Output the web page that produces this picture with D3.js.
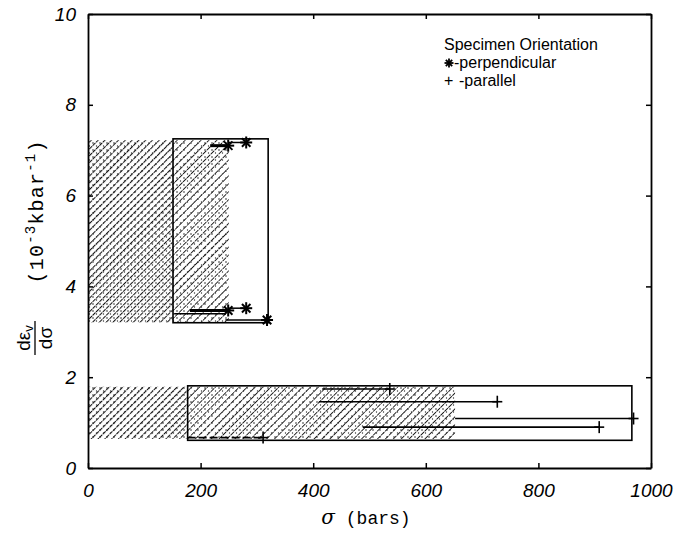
<!DOCTYPE html>
<html><head><meta charset="utf-8">
<script src="https://cdn.jsdelivr.net/npm/d3@7"></script>
<style>
html,body{margin:0;padding:0;background:#fff;}
svg{display:block;}
</style></head>
<body>
<svg id="chart" width="674" height="539"></svg>
<script>
// ---- data ----
const xTicks = [0, 200, 400, 600, 800, 1000];
const yTicks = [0, 2, 4, 6, 8, 10];

// hatched stress ranges (sigma from, sigma to, dε/dσ from, to)
const hatchX0 = [0, 150, 0, 175];
const hatchX1 = [150, 250, 175, 652];
const hatchY0 = [3.2, 3.2, 0.64, 0.64];
const hatchY1 = [7.22, 7.22, 1.79, 1.79];
const hatchDense = [true, false, true, false];

// enclosing boxes
const boxX0 = [151, 177];
const boxX1 = [320, 966];
const boxY0 = [3.2, 0.61];
const boxY1 = [7.25, 1.81];

// perpendicular specimens (asterisk)
const perpStart = [217, 249, 181, 249, 153, 244];
const perpEnd   = [249, 281, 249, 281, 245, 318];
const perpValue = [7.10, 7.17, 3.47, 3.52, 3.40, 3.26];
const perpMark  = [true, true, true, true, false, true];
const perpThick = [true, false, true, false, false, false];

// parallel specimens (plus)
const parStart = [416, 410, 652, 488, 177];
const parEnd   = [536, 727, 969, 908, 311];
const parValue = [1.74, 1.46, 1.09, 0.90, 0.67];
const parDash  = [false, false, false, false, true];

const legendLines = ["Specimen Orientation", "-perpendicular", "-parallel"];

// ---- layout ----
const svg = d3.select("#chart");
const L = 88, R = 651, T = 14, B = 468;
const x = d3.scaleLinear().domain([0, 1000]).range([L, R]);
const y = d3.scaleLinear().domain([0, 10]).range([B, T]);

// hatch patterns
const defs = svg.append("defs");
function makePattern(id, spacing, sw, dash) {
  const p = defs.append("pattern").attr("id", id)
    .attr("patternUnits", "userSpaceOnUse")
    .attr("width", spacing).attr("height", spacing)
    .attr("patternTransform", "rotate(45)");
  p.append("line").attr("x1", 0).attr("y1", 0).attr("x2", 0).attr("y2", spacing)
    .attr("stroke", "#111").attr("stroke-width", sw)
    .attr("stroke-dasharray", dash);
  return p;
}
makePattern("hDense", 4.8, 2.1, "4 1");
makePattern("hLight", 5.6, 1.8, "5 1.5");
// stipple overlay
const st = defs.append("pattern").attr("id", "stip")
  .attr("patternUnits", "userSpaceOnUse").attr("width", 7).attr("height", 7);
st.append("circle").attr("cx", 2).attr("cy", 3).attr("r", 0.8).attr("fill", "#222");
st.append("circle").attr("cx", 5.5).attr("cy", 6).attr("r", 0.7).attr("fill", "#333");

const hatchIdx = d3.range(hatchX0.length);
svg.append("g").selectAll("rect").data(hatchIdx).join("rect")
  .attr("x", i => x(hatchX0[i]))
  .attr("y", i => y(hatchY1[i]))
  .attr("width", i => x(hatchX1[i]) - x(hatchX0[i]))
  .attr("height", i => y(hatchY0[i]) - y(hatchY1[i]))
  .attr("fill", i => hatchDense[i] ? "url(#hDense)" : "url(#hLight)");
svg.append("g").selectAll("rect").data(hatchIdx).join("rect")
  .attr("x", i => x(hatchX0[i]))
  .attr("y", i => y(hatchY1[i]))
  .attr("width", i => x(hatchX1[i]) - x(hatchX0[i]))
  .attr("height", i => y(hatchY0[i]) - y(hatchY1[i]))
  .attr("fill", "url(#stip)");

// boxes
svg.append("g").selectAll("rect").data(d3.range(boxX0.length)).join("rect")
  .attr("x", i => x(boxX0[i]))
  .attr("y", i => y(boxY1[i]))
  .attr("width", i => x(boxX1[i]) - x(boxX0[i]))
  .attr("height", i => y(boxY0[i]) - y(boxY1[i]))
  .attr("fill", "none").attr("stroke", "#000").attr("stroke-width", 1.6);

function asterisk(g, cx, cy, r, sw) {
  const s = g.append("g").attr("stroke", "#000").attr("stroke-width", sw);
  [0, 45, 90, 135].forEach(a => {
    const rad = a * Math.PI / 180;
    s.append("line")
      .attr("x1", cx - r * Math.cos(rad)).attr("y1", cy - r * Math.sin(rad))
      .attr("x2", cx + r * Math.cos(rad)).attr("y2", cy + r * Math.sin(rad));
  });
}

// perpendicular segments
const gp = svg.append("g");
d3.range(perpStart.length).forEach(i => {
  gp.append("line")
    .attr("x1", x(perpStart[i])).attr("x2", x(perpEnd[i]))
    .attr("y1", y(perpValue[i])).attr("y2", y(perpValue[i]))
    .attr("stroke", "#000").attr("stroke-width", perpThick[i] ? 3 : 1.5);
  if (perpMark[i]) asterisk(gp, x(perpEnd[i]), y(perpValue[i]), 6, 2);
});

// parallel segments
const gq = svg.append("g");
d3.range(parStart.length).forEach(i => {
  const cy = y(parValue[i]);
  gq.append("line")
    .attr("x1", x(parStart[i])).attr("x2", x(parEnd[i]))
    .attr("y1", cy).attr("y2", cy)
    .attr("stroke", "#000").attr("stroke-width", 1.6)
    .attr("stroke-dasharray", parDash[i] ? "8 3" : null);
  const cx = x(parEnd[i]);
  gq.append("line").attr("x1", cx).attr("x2", cx).attr("y1", cy - 6).attr("y2", cy + 6)
    .attr("stroke", "#000").attr("stroke-width", 1.6);
  gq.append("line").attr("x1", cx - 5).attr("x2", cx + 5).attr("y1", cy).attr("y2", cy)
    .attr("stroke", "#000").attr("stroke-width", 1.6);
});

// axes frame
const tickLen = 5;
const fmt = d3.format("d");
const axB = svg.append("g").attr("transform", `translate(0,${B})`)
  .call(d3.axisBottom(x).tickValues(xTicks).tickSizeInner(-tickLen).tickSizeOuter(0).tickPadding(12).tickFormat(fmt));
const axT = svg.append("g").attr("transform", `translate(0,${T})`)
  .call(d3.axisTop(x).tickValues(xTicks).tickSizeInner(-tickLen).tickSizeOuter(0).tickFormat(""));
const axL = svg.append("g").attr("transform", `translate(${L},0)`)
  .call(d3.axisLeft(y).tickValues(yTicks).tickSizeInner(-tickLen).tickSizeOuter(0).tickPadding(12).tickFormat(fmt));
const axR = svg.append("g").attr("transform", `translate(${R},0)`)
  .call(d3.axisRight(y).tickValues(yTicks).tickSizeInner(-tickLen).tickSizeOuter(0).tickFormat(""));
[axB, axT, axL, axR].forEach(a => {
  a.select(".domain").attr("stroke", "#000").attr("stroke-width", 1.8);
  a.selectAll(".tick line").attr("stroke", "#000").attr("stroke-width", 1.5);
  a.selectAll("text").attr("font-family", "'Liberation Sans', Arial, sans-serif")
    .attr("font-style", "italic").attr("font-size", 19).attr("fill", "#000");
});
axB.selectAll(".tick text").attr("dy", "0.9em");

// legend
const lg = svg.append("g").attr("font-family", "'Liberation Sans', Arial, sans-serif")
  .attr("font-size", 16).attr("fill", "#000");
lg.append("text").attr("x", 444).attr("y", 50).text(legendLines[0]);
asterisk(lg, 449, 63, 4.5, 1.8);
lg.append("text").attr("x", 454).attr("y", 68).text(legendLines[1]);
lg.append("text").attr("x", 444).attr("y", 86).text("+");
lg.append("text").attr("x", 459).attr("y", 86).text(legendLines[2]);

// x title
const xt = svg.append("text").attr("x", 366).attr("y", 524).attr("text-anchor", "middle").attr("fill", "#000");
xt.append("tspan").attr("font-family", "'DejaVu Serif', serif").attr("font-style", "italic").attr("font-size", 20).text("σ");
xt.append("tspan").attr("font-family", "'Liberation Mono', 'Courier New', monospace").attr("font-size", 18).text(" (bars)");

// y title (rotated)
const mono = "'Liberation Mono', 'Courier New', monospace";
const ytxt = svg.append("g").attr("transform", "translate(43,212) rotate(-90)")
  .append("text").attr("text-anchor", "middle").attr("fill", "#000")
  .attr("font-family", mono).attr("font-size", 20)
  .attr("textLength", 143).attr("lengthAdjust", "spacing");
ytxt.append("tspan").text("(10");
ytxt.append("tspan").attr("font-size", 14).attr("dy", -8).text("-3");
ytxt.append("tspan").attr("dy", 8).text("kbar");
ytxt.append("tspan").attr("font-size", 14).attr("dy", -8).text("-1");
ytxt.append("tspan").attr("dy", 8).text(")");
// fraction
const yt = svg.append("g").attr("transform", "translate(35,338) rotate(-90)");
const ff = "'Liberation Sans', Arial, sans-serif";
const num = yt.append("text").attr("x", 0).attr("y", -5).attr("text-anchor", "middle")
  .attr("font-family", ff).attr("font-size", 19).attr("fill", "#000");
num.append("tspan").text("dε");
num.append("tspan").attr("font-size", 13).attr("dy", 3).text("v");
yt.append("line").attr("x1", -17).attr("x2", 17).attr("y1", 0).attr("y2", 0)
  .attr("stroke", "#000").attr("stroke-width", 1.3);
yt.append("text").attr("x", 0).attr("y", 17).attr("text-anchor", "middle")
  .attr("font-family", ff).attr("font-size", 19).attr("fill", "#000").text("dσ");
</script>
</body></html>
